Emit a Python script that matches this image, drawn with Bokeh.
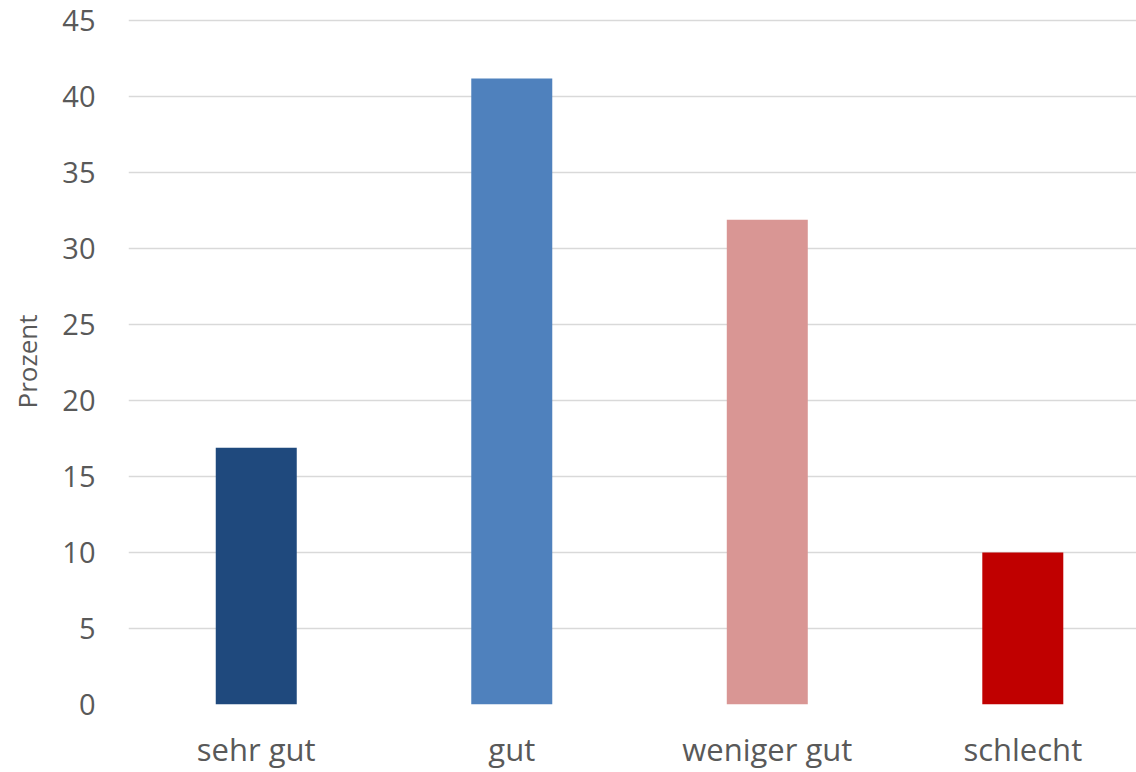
from bokeh.plotting import figure
from bokeh.models import Range1d, FixedTicker
from bokeh.embed import file_html
from bokeh.resources import INLINE

categories = ["sehr gut", "gut", "weniger gut", "schlecht"]
values = [16.9, 41.2, 31.9, 10.0]
colors = ["#1F497D", "#4F81BD", "#D99694", "#C00000"]
y_ticks = [0, 5, 10, 15, 20, 25, 30, 35, 40, 45]

xs = [i + 0.5 for i in range(len(categories))]

p = figure(width=1136, height=772, output_backend="svg", toolbar_location=None,
           x_range=Range1d(0, 3.945), y_range=Range1d(0, 45.15),
           min_border_left=128, min_border_right=0, min_border_top=18, min_border_bottom=68)
p.outline_line_color = None
p.background_fill_color = "white"
p.border_fill_color = "white"

p.vbar(x=xs, top=values, width=0.317, bottom=0, color=colors, line_color=None)

font = "Open Sans"
grey = "#595959"

p.xaxis.ticker = FixedTicker(ticks=xs)
p.xaxis.major_label_overrides = {x: c for x, c in zip(xs, categories)}
p.yaxis.ticker = FixedTicker(ticks=y_ticks)
p.xgrid.grid_line_color = None
p.ygrid.grid_line_color = "#D9D9D9"
p.ygrid.grid_line_width = 1.5

for ax in (p.xaxis, p.yaxis):
    ax.axis_line_color = None
    ax.major_tick_line_color = None
    ax.minor_tick_line_color = None
    ax.major_label_text_font = font
    ax.major_label_text_color = grey

p.yaxis.major_label_text_font_size = "29px"
p.yaxis.major_label_standoff = 27
p.xaxis.major_label_text_font_size = "31px"
p.xaxis.major_label_standoff = 17

p.yaxis.axis_label = "Prozent"
p.yaxis.axis_label_text_font = font
p.yaxis.axis_label_text_font_style = "normal"
p.yaxis.axis_label_text_font_size = "26px"
p.yaxis.axis_label_text_color = grey
p.yaxis.axis_label_standoff = 14

open("out.html", "w").write(file_html(p, INLINE))
